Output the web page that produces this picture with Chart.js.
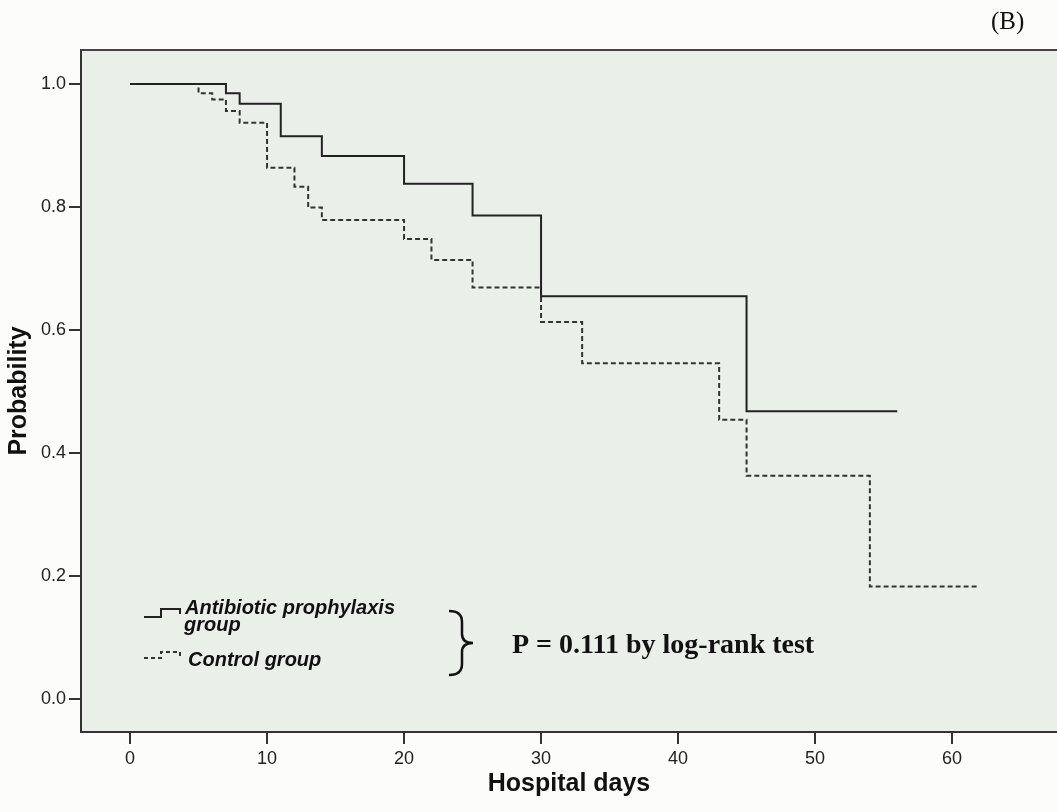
<!DOCTYPE html>
<html>
<head>
<meta charset="utf-8">
<script src="https://cdn.jsdelivr.net/npm/chart.js@4.4.1/dist/chart.umd.min.js"></script>
<style>
  html, body { margin:0; padding:0; background:#fcfdfb; }
  #wrap { position:relative; width:1057px; height:812px; }
</style>
</head>
<body>
<div id="wrap"><canvas id="c" width="1057" height="812"></canvas></div>
<script>
// ---- data ----
const daysAntibiotic = [0, 7, 8, 11, 14, 20, 25, 30, 45, 56];
const probAntibiotic = [1.0, 0.985, 0.968, 0.915, 0.883, 0.838, 0.786, 0.655, 0.468, 0.468];
const daysControl = [0, 5, 6, 7, 8, 10, 12, 13, 14, 20, 22, 25, 30, 33, 43, 45, 54, 62];
const probControl = [1.0, 0.985, 0.975, 0.956, 0.937, 0.864, 0.833, 0.799, 0.779, 0.748, 0.714, 0.669, 0.613, 0.546, 0.454, 0.363, 0.183, 0.183];
const xTickValues = [0, 10, 20, 30, 40, 50, 60];
const yTickValues = [0, 0.2, 0.4, 0.6, 0.8, 1.0];
const seriesNames = ['Antibiotic prophylaxis group', 'Control group'];
const xTitle = 'Hospital days';
const yTitle = 'Probability';
const pText = 'P = 0.111 by log-rank test';
const panelLabel = '(B)';

const toPts = (xs, ys) => xs.map((x, i) => ({x: x, y: ys[i]}));

const decor = {
  id: 'decor',
  beforeDraw(chart) {
    const {ctx, chartArea: a} = chart;
    ctx.save();
    ctx.fillStyle = '#ebefea';
    ctx.fillRect(a.left, a.top, a.right - a.left, a.bottom - a.top);
    ctx.restore();
  },
  afterDraw(chart) {
    const {ctx, chartArea: a} = chart;
    ctx.save();
    // top border
    ctx.strokeStyle = '#444';
    ctx.lineWidth = 2;
    ctx.beginPath();
    ctx.moveTo(a.left, a.top);
    ctx.lineTo(a.right, a.top);
    ctx.stroke();

    // legend glyphs
    ctx.strokeStyle = '#222';
    ctx.lineWidth = 2;
    ctx.setLineDash([]);
    ctx.beginPath();
    ctx.moveTo(144, 617); ctx.lineTo(161, 617); ctx.lineTo(161, 609);
    ctx.lineTo(180, 609); ctx.lineTo(180, 614);
    ctx.stroke();
    ctx.strokeStyle = '#333';
    ctx.setLineDash([4, 3]);
    ctx.beginPath();
    ctx.moveTo(144, 658); ctx.lineTo(161, 658); ctx.lineTo(161, 652);
    ctx.lineTo(180, 652); ctx.lineTo(180, 656);
    ctx.stroke();
    ctx.setLineDash([]);

    // legend text
    ctx.fillStyle = '#111';
    ctx.textBaseline = 'alphabetic';
    ctx.textAlign = 'left';
    ctx.font = 'italic bold 20px "Liberation Sans", Arial, sans-serif';
    ctx.fillText('Antibiotic prophylaxis', 185, 614);
    ctx.fillText('group', 184, 631);
    ctx.fillText('Control group', 188, 666);

    // brace
    ctx.strokeStyle = '#111';
    ctx.lineWidth = 2.5;
    ctx.beginPath();
    ctx.moveTo(449, 611);
    ctx.quadraticCurveTo(462, 611, 462, 622);
    ctx.lineTo(462, 634);
    ctx.quadraticCurveTo(462, 643, 473, 643);
    ctx.quadraticCurveTo(462, 643, 462, 652);
    ctx.lineTo(462, 664);
    ctx.quadraticCurveTo(462, 675, 449, 675);
    ctx.stroke();

    // p-value text
    ctx.font = 'bold 28px "Liberation Serif", "Times New Roman", serif';
    ctx.fillText(pText, 512, 653);

    // panel label
    ctx.font = '25px "Liberation Serif", "Times New Roman", serif';
    ctx.fillText(panelLabel, 991, 29);
    ctx.restore();
  }
};

new Chart(document.getElementById('c'), {
  type: 'line',
  data: {
    datasets: [
      {
        label: seriesNames[0],
        data: toPts(daysAntibiotic, probAntibiotic),
        stepped: 'before',
        borderColor: '#222',
        borderWidth: 2,
        pointRadius: 0,
        fill: false
      },
      {
        label: seriesNames[1],
        data: toPts(daysControl, probControl),
        stepped: 'before',
        borderColor: '#333',
        borderWidth: 2,
        borderDash: [5, 3],
        pointRadius: 0,
        fill: false
      }
    ]
  },
  options: {
    responsive: false,
    animation: false,
    devicePixelRatio: 1,
    layout: { padding: { top: 50, right: 0, left: 0, bottom: 0 } },
    plugins: { legend: { display: false }, tooltip: { enabled: false } },
    scales: {
      x: {
        type: 'linear',
        min: -3.58,
        max: 67.66,
        afterBuildTicks: s => { s.ticks = xTickValues.map(v => ({value: v})); },
        afterFit: s => { s.height = 80; },
        ticks: {
          callback: v => String(v),
          color: '#222',
          font: { family: '"Liberation Sans", Arial, sans-serif', size: 18 },
          padding: 4,
          maxRotation: 0,
          autoSkip: false
        },
        grid: { display: true, drawOnChartArea: false, drawTicks: true, tickLength: 12, color: '#333', lineWidth: 2 },
        border: { display: true, color: '#333', width: 2 },
        title: {
          display: true,
          text: xTitle,
          color: '#111',
          font: { family: '"Liberation Sans", Arial, sans-serif', size: 25, weight: 'bold' },
          padding: { top: 13, bottom: 13 }
        }
      },
      y: {
        type: 'linear',
        min: -0.0537,
        max: 1.0553,
        afterBuildTicks: s => { s.ticks = yTickValues.map(v => ({value: v})); },
        afterFit: s => { s.width = 81; },
        ticks: {
          callback: v => Number(v).toFixed(1),
          color: '#222',
          font: { family: '"Liberation Sans", Arial, sans-serif', size: 18 },
          padding: 3,
          autoSkip: false
        },
        grid: { display: true, drawOnChartArea: false, drawTicks: true, tickLength: 12, color: '#333', lineWidth: 2 },
        border: { display: true, color: '#333', width: 2 },
        title: {
          display: true,
          text: yTitle,
          color: '#111',
          font: { family: '"Liberation Sans", Arial, sans-serif', size: 25, weight: 'bold' },
          padding: { top: 4, bottom: 4 }
        }
      }
    }
  },
  plugins: [decor]
});
</script>
</body>
</html>
